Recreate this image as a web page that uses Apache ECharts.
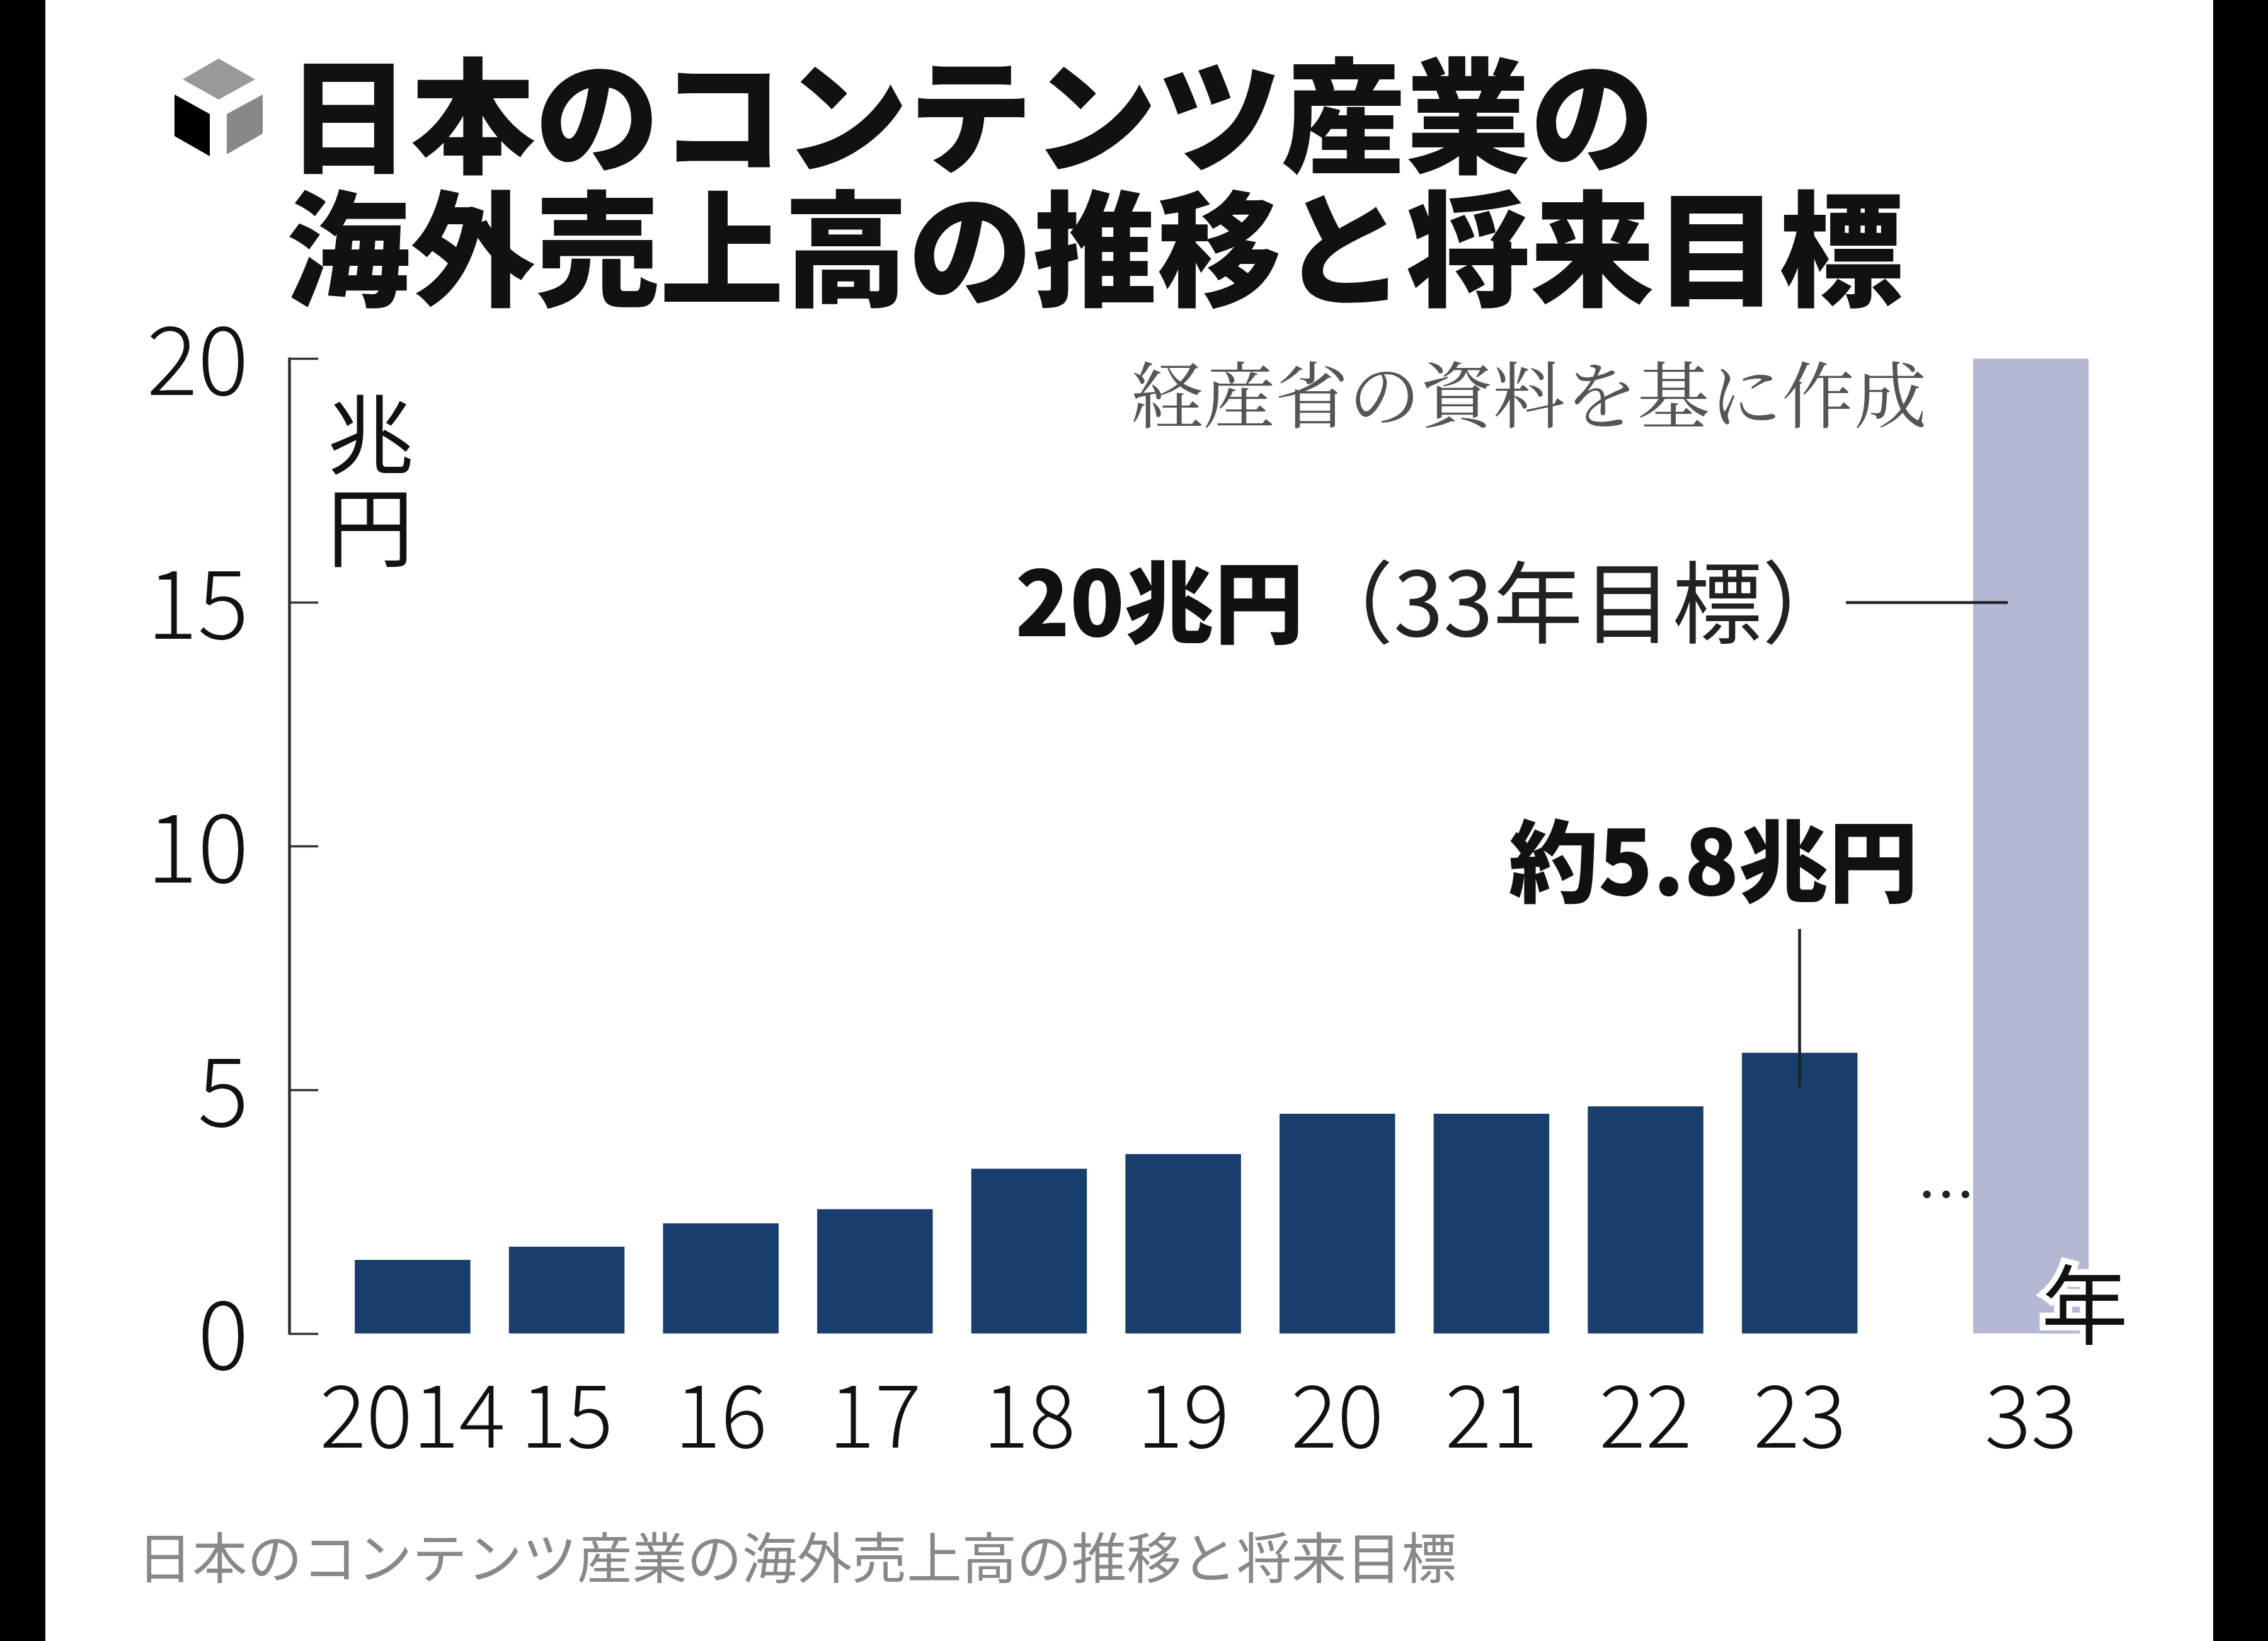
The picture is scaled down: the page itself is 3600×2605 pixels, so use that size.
<!DOCTYPE html>
<html><head><meta charset="utf-8">
<script src="https://cdn.jsdelivr.net/npm/echarts@6/dist/echarts.min.js"></script>
<style>html,body{margin:0;padding:0;background:#000;}#c{position:absolute;left:72px;top:0;width:3441px;height:2605px;background:#fff;}</style>
</head><body><div id="c"></div>
<script>
const years = ['2014','15','16','17','18','19','20','21','22','23'];
const values = [1.51, 1.78, 2.26, 2.55, 3.38, 3.68, 4.51, 4.51, 4.66, 5.76];
const targetLabel = '33';
const targetValue = 20;
const yTicks = [0, 5, 10, 15, 20];
const s = 3600/1568;
const OX = 72;
const xPos = years.map((_, i) => i);
const targetPos = 10.5;
const labelPos = xPos.concat([targetPos]);
const labelText = years.concat([targetLabel]);
const font = '"Noto Sans CJK JP", sans-serif';
const barW = 0.75;
function renderBar(params, api) {
  const x = api.value(0), y = api.value(1);
  const p0 = api.coord([x - barW/2, y]);
  const p1 = api.coord([x + barW/2, 0]);
  return {type: 'rect', shape: {x: p0[0], y: p0[1], width: p1[0]-p0[0], height: p1[1]-p0[1]}, style: {fill: api.visual('color')}};
}
const chart = echarts.init(document.getElementById('c'));
chart.setOption({
  animation: false,
  grid: {outerBoundsMode: 'none', left: 200*s - OX, right: 3441 - (1468*s - OX), top: 248*s, bottom: 2605 - 922*s},
  xAxis: {type: 'value', min: -0.8, max: 11.1,
    axisLine: {show: false}, axisTick: {show: false}, splitLine: {show: false},
    axisLabel: {customValues: labelPos, formatter: v => labelText[labelPos.indexOf(v)] ?? '',
      color: '#111', fontSize: 60*s, fontFamily: '"Liberation Sans Narrow","Noto Sans CJK JP",sans-serif', margin: 26*s, fontWeight: 300}
  },
  yAxis: {type: 'value', min: 0, max: 20, interval: 5,
    axisLine: {show: true, onZero: false, lineStyle: {color: '#333', width: 2*s}},
    axisTick: {show: true, inside: true, length: 20*s, lineStyle: {color: '#333', width: 1.5*s}},
    splitLine: {show: false},
    axisLabel: {color: '#111', fontSize: 66*s, fontFamily: font, fontWeight: 300, margin: 28*s}
  },
  series: [
    {type: 'custom', renderItem: renderBar, itemStyle: {color: '#173e6d'}, encode: {x: 0, y: 1},
      data: xPos.map((x, i) => [x, values[i]]),
      markLine: {silent: true, symbol: 'none', label: {show: false},
        lineStyle: {color: '#222', width: 2*s, type: 'solid'},
        data: [
          [{coord: [9, 5.05]}, {coord: [9, 8.3]}],
          [{coord: [9.3, 15]}, {coord: [10.35, 15]}]
        ]}
    },
    {type: 'custom', renderItem: renderBar, itemStyle: {color: '#b4b8d4'}, encode: {x: 0, y: 1},
      data: [[targetPos, targetValue]]}
  ]
});
function px(x, y){ return chart.convertToPixel({gridIndex: 0}, [x, y]); }
const p58 = px(9, 8.6), p20 = px(9.3, 15), pDots = px(9.95, 2.85), pYen = px(10.85, 0.6);
chart.setOption({graphic: [
  {type: 'polygon', shape: {points: [[347-OX,93],[405-OX,126],[347-OX,158],[290-OX,126]]}, style: {fill: '#999'}},
  {type: 'polygon', shape: {points: [[277-OX,150],[333-OX,181],[333-OX,248],[277-OX,216]]}, style: {fill: '#000'}},
  {type: 'polygon', shape: {points: [[360-OX,181],[417-OX,150],[417-OX,212],[360-OX,245]]}, style: {fill: '#888'}},
  {type: 'text', left: 198*s - OX, top: 34*s, style: {text: '日本のコンテンツ産業の\n海外売上高の推移と将来目標', font: `900 ${86*s}px ${font}`, fill: '#111', lineHeight: 92*s}},
  {type: 'text', right: 3441 - (1332*s - OX), top: 248*s, style: {text: '経産省の資料を基に作成', font: `400 ${50*s}px "Noto Serif CJK JP","Noto Sans CJK JP",serif`, fill: '#555'}},
  {type: 'text', left: 226*s - OX, top: 268*s, style: {text: '兆\n円', font: `400 ${60*s}px ${font}`, fill: '#111', lineHeight: 64*s}},
  {type: 'text', x: p20[0] + 4*s, y: p20[1], style: {text: '{b|20兆円}{n|（33年目標）}', align: 'right', verticalAlign: 'middle',
    rich: {b: {font: `900 ${62*s}px ${font}`, fill: '#111'}, n: {font: `400 ${62*s}px ${font}`, fill: '#222'}}}},
  {type: 'text', x: p58[0] + 82*s, y: p58[1] - 6*s, style: {text: '約5.8兆円', align: 'right', verticalAlign: 'bottom', font: `900 ${62*s}px ${font}`, fill: '#111'}},
  {type: 'text', x: pDots[0], y: pDots[1], style: {text: '…', align: 'center', verticalAlign: 'middle', font: `400 ${40*s}px ${font}`, fill: '#222'}},
  {type: 'text', z: 100, x: pYen[0], y: pYen[1], style: {text: '年', align: 'center', verticalAlign: 'middle', font: `400 ${60*s}px ${font}`, fill: '#111', stroke: '#fff', lineWidth: 8*s}},
  {type: 'text', left: 95*s - OX, top: 1058*s, style: {text: '日本のコンテンツ産業の海外売上高の推移と将来目標', font: `400 ${38*s}px ${font}`, fill: '#888'}}
]});
</script></body></html>
